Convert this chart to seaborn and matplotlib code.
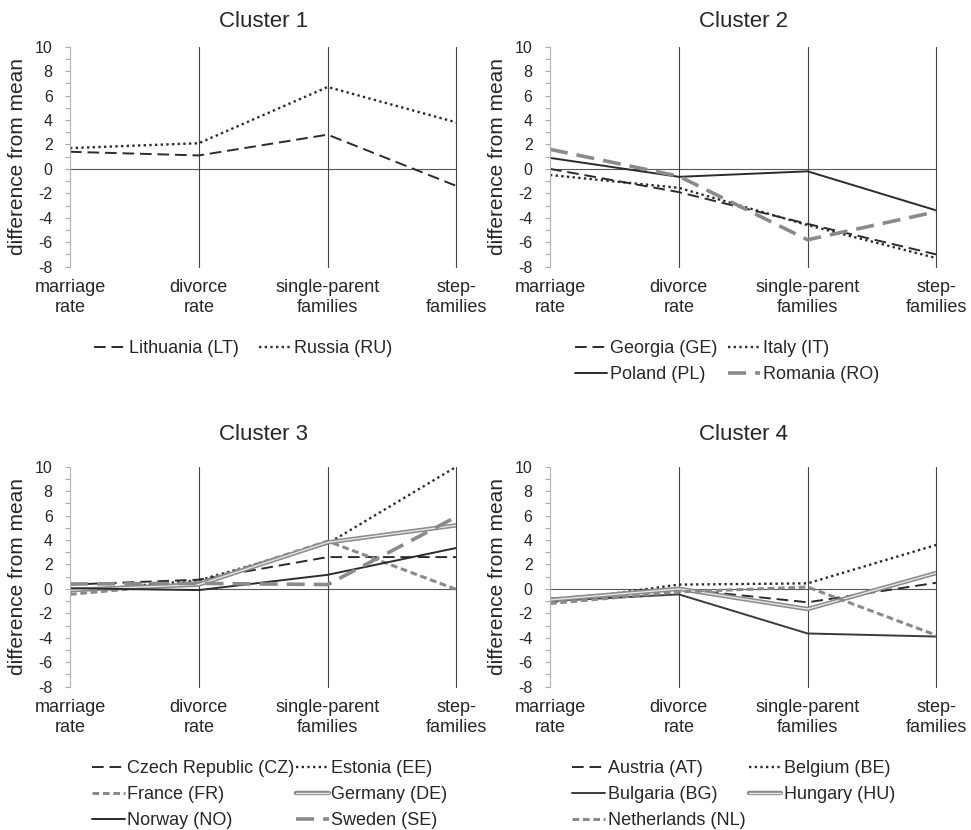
import matplotlib
matplotlib.use("Agg")
import matplotlib.pyplot as plt
import matplotlib.patheffects as pe
from matplotlib.ticker import MultipleLocator
import numpy as np
import pandas as pd
import seaborn as sns

# ------------------------------------------
# Data (difference from mean)
# ------------------------------------------
categories = ["marriage\nrate", "divorce\nrate", "single-parent\nfamilies", "step-\nfamilies"]

# Cluster 1
lithuania = [1.4, 1.1, 2.8, -1.4]
russia = [1.7, 2.1, 6.7, 3.8]

# Cluster 2
georgia = [0.0, -1.9, -4.5, -7.0]
italy = [-0.5, -1.55, -4.6, -7.3]
poland = [0.9, -0.65, -0.2, -3.4]
romania = [1.6, -0.6, -5.8, -3.5]

# Cluster 3
czech = [0.35, 0.75, 2.6, 2.6]
estonia = [-0.2, 0.7, 3.7, 10.0]
france = [-0.45, 0.5, 3.9, -0.05]
germany = [-0.1, 0.35, 3.8, 5.2]
norway = [0.05, -0.1, 1.15, 3.35]
sweden = [0.4, 0.45, 0.35, 5.9]

# Cluster 4
austria = [-0.8, 0.0, -1.1, 0.5]
belgium = [-1.1, 0.35, 0.45, 3.6]
bulgaria = [-1.0, -0.45, -3.65, -3.9]
hungary = [-0.9, 0.0, -1.65, 1.3]
netherlands = [-1.2, -0.25, 0.15, -3.8]

clusters = [
    ("Cluster 1", ["Lithuania (LT)", "Russia (RU)"], [lithuania, russia]),
    ("Cluster 2", ["Georgia (GE)", "Italy (IT)", "Poland (PL)", "Romania (RO)"],
     [georgia, italy, poland, romania]),
    ("Cluster 3", ["Czech Republic (CZ)", "Estonia (EE)", "France (FR)", "Germany (DE)",
                   "Norway (NO)", "Sweden (SE)"],
     [czech, estonia, france, germany, norway, sweden]),
    ("Cluster 4", ["Austria (AT)", "Belgium (BE)", "Bulgaria (BG)", "Hungary (HU)",
                   "Netherlands (NL)"],
     [austria, belgium, bulgaria, hungary, netherlands]),
]

# ------------------------------------------
# Line styles
# ------------------------------------------
DARK = "#2b2b2b"
GRAY = "#8a8a8a"
long_dash = dict(color=DARK, linestyle=(0, (6, 3)), lw=1.4)
dotted = dict(color=DARK, linestyle=(0, (1, 1.4)), lw=1.7)
short_dash = dict(color=GRAY, linestyle=(0, (2.2, 1.2)), lw=2.2)
solid = dict(color=DARK, linestyle="-", lw=1.4)
gray_dash = dict(color=GRAY, linestyle=(0, (5, 2.5)), lw=2.6)
double = dict(color="#e6e6e6", linestyle="-", lw=1.0,
              path_effects=[pe.Stroke(linewidth=3.2, foreground=GRAY), pe.Normal()])

styles = {
    "Lithuania (LT)": long_dash, "Russia (RU)": dotted,
    "Georgia (GE)": long_dash, "Italy (IT)": dotted,
    "Poland (PL)": solid, "Romania (RO)": gray_dash,
    "Czech Republic (CZ)": long_dash, "Estonia (EE)": dotted,
    "France (FR)": short_dash, "Germany (DE)": double,
    "Norway (NO)": solid, "Sweden (SE)": gray_dash,
    "Austria (AT)": long_dash, "Belgium (BE)": dotted,
    "Bulgaria (BG)": dict(solid, color="#3a3a3a"), "Hungary (HU)": double,
    "Netherlands (NL)": short_dash,
}

# ------------------------------------------
# Figure
# ------------------------------------------
sns.set_theme(style="white")
plt.rcParams["font.family"] = ["Liberation Sans", "DejaVu Sans"]
plt.rcParams["axes.unicode_minus"] = False
plt.rcParams["text.color"] = "#262626"

fig = plt.figure(figsize=(9.71, 8.30), dpi=100)

positions = [
    [0.0721, 0.6787, 0.398, 0.2651],
    [0.5664, 0.6787, 0.398, 0.2651],
    [0.0721, 0.1727, 0.398, 0.2651],
    [0.5664, 0.1727, 0.398, 0.2651],
]
title_pads = [14.5, 14.5, 19.5, 19.5]
legend_x = [0.448, 0.458, 0.517, 0.476]
col_space = [1.1, 0.6, 0.1, 0.2]

x_pos = np.arange(len(categories))

for i, (title, names, values) in enumerate(clusters):
    ax = fig.add_axes(positions[i])

    for name, vals in zip(names, values):
        sns.lineplot(x=x_pos, y=vals, ax=ax, label=name, errorbar=None, **styles[name])

    # axis guides
    ax.axhline(0, color="#555555", lw=0.8, zorder=0)
    for xv in x_pos[1:]:
        ax.axvline(xv, color="#444444", lw=0.8, zorder=0, clip_on=False)

    ax.set_xlim(0, 3)
    ax.set_ylim(-8, 10)
    ax.set_yticks(range(-8, 11, 2))
    ax.yaxis.set_minor_locator(MultipleLocator(1))
    ax.set_xticks(x_pos)
    ax.set_xticklabels(categories, fontsize=13, color="#262626")
    ax.tick_params(axis="x", length=0, pad=9)
    ax.tick_params(axis="y", which="both", direction="out", length=3.5, width=0.8,
                   color="#aaaaaa", left=True, labelsize=11.5, pad=9, labelcolor="#262626")

    for side in ["top", "right", "bottom"]:
        ax.spines[side].set_visible(False)
    ax.spines["left"].set_color("#b0b0b0")
    ax.spines["left"].set_linewidth(0.8)

    ax.set_xlabel("")
    ax.set_ylabel("difference from mean", fontsize=15, labelpad=6, color="#262626")
    ax.set_title(title, fontsize=16, pad=title_pads[i], color="#262626")

    # legend filled row by row
    handles, labels = ax.get_legend_handles_labels()
    order = list(range(0, len(labels), 2)) + list(range(1, len(labels), 2))
    ax.legend([handles[k] for k in order], [labels[k] for k in order],
              ncol=2, loc="upper center", bbox_to_anchor=(legend_x[i], -0.26),
              frameon=False, fontsize=13, handlelength=1.8, handletextpad=0.15,
              columnspacing=col_space[i], labelspacing=0.5)

plt.savefig("out.png", dpi=100)
